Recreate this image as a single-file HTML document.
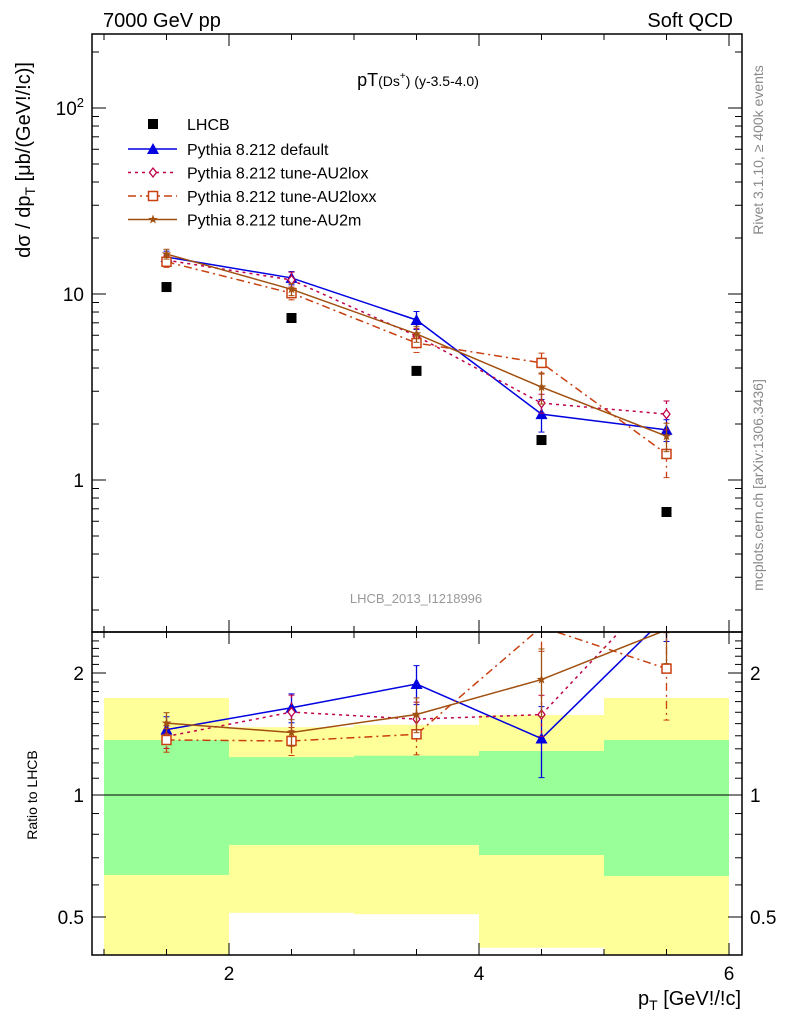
<!DOCTYPE html>
<html><head><meta charset="utf-8"><style>
body{margin:0;background:#fff}
svg{display:block;font-family:"Liberation Sans",sans-serif}
</style></head><body>
<svg id="chart" width="786" height="1024" viewBox="0 0 786 1024" xmlns="http://www.w3.org/2000/svg">
<defs>
<clipPath id="cm"><rect x="92" y="34" width="650" height="598"/></clipPath>
<clipPath id="cr"><rect x="92" y="632" width="650" height="323"/></clipPath>
</defs>
<g id="bands" clip-path="url(#cr)"></g>
<g id="ratio" clip-path="url(#cr)"></g>
<g id="main" clip-path="url(#cm)"></g>
<g id="axes"></g>
<text x="103" y="27" font-size="20">7000 GeV pp</text>
<text x="733" y="27" font-size="20" text-anchor="end">Soft QCD</text>
<text x="418" y="86" font-size="18" text-anchor="middle">pT<tspan font-size="14">(Ds</tspan><tspan font-size="10" dy="-7">+</tspan><tspan font-size="14" dy="7">) (y-3.5-4.0)</tspan></text>
<text x="416" y="603" font-size="13" fill="#999" text-anchor="middle">LHCB_2013_I1218996</text>
<text transform="translate(763,150) rotate(-90)" font-size="14" fill="#888" text-anchor="middle">Rivet 3.1.10, ≥ 400k events</text>
<text transform="translate(763,485) rotate(-90)" font-size="14" fill="#888" text-anchor="middle">mcplots.cern.ch [arXiv:1306.3436]</text>
<text transform="translate(30,160) rotate(-90)" font-size="20" text-anchor="middle">dσ / dp<tspan font-size="14" dy="5">T</tspan><tspan dy="-5"> [μb/(GeV!/!c)]</tspan></text>
<text transform="translate(37,795) rotate(-90)" font-size="14" text-anchor="middle">Ratio to LHCB</text>
<text x="741" y="1005" font-size="20" text-anchor="end">p<tspan font-size="14" dy="5">T</tspan><tspan dy="-5"> [GeV!/!c]</tspan></text>
<g id="legend"></g>
</svg>
<script>
const xs=[1.5,2.5,3.5,4.5,5.5];
const binLo=[1,2,3,4,5];
const binHi=[2,3,4,5,6];
const lhcb=[10.9,7.43,3.86,1.64,0.673];
const def=[15.8,12.2,7.25,2.26,1.86];
const defErr=[1.2,1.0,0.8,0.45,0.25];
const lox=[15.2,11.9,5.94,2.59,2.26];
const loxErr=[1.0,1.2,0.6,0.3,0.4];
const loxx=[14.9,10.1,5.45,4.26,1.38];
const loxxErr=[1.0,0.8,0.6,0.55,0.35];
const au2m=[16.4,10.6,6.1,3.16,1.72];
const au2mErr=[1.0,0.8,0.6,0.6,0.3];
const yelHi=[1.735,1.47,1.49,1.575,1.735];
const yelLo=[0.35,0.512,0.508,0.42,0.35];
const grnHi=[1.367,1.24,1.25,1.284,1.367];
const grnLo=[0.635,0.753,0.753,0.711,0.631];
const ratioTicks=[0.5,1,2];
const xTicks=[2,4,6];

const NS="http://www.w3.org/2000/svg";
const TOP=34;
const X=v=>104+(v-1)*125;
const Y=v=>480-186*Math.log10(v);
const R=v=>795-122*Math.log2(v);
function mk(p,t,a){const e=document.createElementNS(NS,t);for(const k in a)e.setAttribute(k,a[k]);p.appendChild(e);return e;}
const main=document.getElementById('main'),ratio=document.getElementById('ratio'),bands=document.getElementById('bands'),axes=document.getElementById('axes'),leg=document.getElementById('legend');

for(let i=0;i<5;i++){
  let r=mk(bands,'rect',{x:X(binLo[i]),y:R(yelHi[i]),width:X(binHi[i])-X(binLo[i]),height:R(yelLo[i])-R(yelHi[i]),fill:'#ffff99'});
  
  
  let g=mk(bands,'rect',{x:X(binLo[i]),y:R(grnHi[i]),width:X(binHi[i])-X(binLo[i]),height:R(grnLo[i])-R(grnHi[i]),fill:'#99ff99'});
  
  
}
mk(bands,'line',{x1:92,x2:742,y1:R(1),y2:R(1),stroke:'#000','stroke-width':1});

function marker(p,type,x,y,c){
  let e;
  if(type==='sq')e=mk(p,'rect',{x:x-5,y:y-5,width:10,height:10,fill:c});
  else if(type==='tri')e=mk(p,'polygon',{points:`${x},${y-6} ${x-6},${y+5} ${x+6},${y+5}`,fill:c});
  else if(type==='dia')e=mk(p,'polygon',{points:`${x},${y-4.5} ${x+3.5},${y} ${x},${y+4.5} ${x-3.5},${y}`,fill:'#fff',stroke:c,'stroke-width':1.3});
  else if(type==='osq')e=mk(p,'rect',{x:x-4.5,y:y-4.5,width:9,height:9,fill:'#fff',stroke:c,'stroke-width':1.5});
  else {let pts=[];for(let k=0;k<10;k++){const rr=k%2?2:5,a=-Math.PI/2+k*Math.PI/5;pts.push((x+rr*Math.cos(a)).toFixed(1)+','+(y+rr*Math.sin(a)).toFixed(1));}e=mk(p,'polygon',{points:pts.join(' '),fill:c});}
  return e;
}
const series=[
 {name:'default',vals:def,err:defErr,c:'#0000e0',m:'tri',dash:'',label:'Pythia 8.212 default'},
 {name:'au2lox',vals:lox,err:loxErr,c:'#c0004a',m:'dia',dash:'3,4',label:'Pythia 8.212 tune-AU2lox'},
 {name:'au2loxx',vals:loxx,err:loxxErr,c:'#c84010',m:'osq',dash:'8,4,2,4',label:'Pythia 8.212 tune-AU2loxx'},
 {name:'au2m',vals:au2m,err:au2mErr,c:'#a05010',m:'star',dash:'',label:'Pythia 8.212 tune-AU2m'}
];
series.forEach(s=>{
  [[main,Y,s.vals,s.err],[ratio,R,s.vals.map((v,i)=>v/lhcb[i]),s.err.map((e,i)=>e/lhcb[i])]].forEach(([p,F,v,e])=>{
    const pl=mk(p,'polyline',{points:xs.map((x,i)=>X(x)+','+F(v[i])).join(' '),fill:'none',stroke:s.c,'stroke-width':1.5,'stroke-dasharray':s.dash});
    
    
    xs.forEach((x,i)=>{
      const y1=F(v[i]+e[i]),y2=F(Math.max(v[i]-e[i],0.01));
      mk(p,'line',{x1:X(x),x2:X(x),y1:y1,y2:y2,stroke:s.c,'stroke-width':1.3,'stroke-dasharray':s.dash});
      mk(p,'line',{x1:X(x)-3,x2:X(x)+3,y1:y1,y2:y1,stroke:s.c});
      mk(p,'line',{x1:X(x)-3,x2:X(x)+3,y1:y2,y2:y2,stroke:s.c});
      const mm=marker(p,s.m,X(x),F(v[i]),s.c);
      
      
    });
  });
});
xs.forEach((x,i)=>{
  const m=marker(main,'sq',X(x),Y(lhcb[i]),'#000');
  
  
});

let ly=124;
marker(leg,'sq',153,ly,'#000');
mk(leg,'text',{x:187,y:ly+6,'font-size':16}).textContent='LHCB';
series.forEach((s,i)=>{
  const y=149+i*23.5;
  mk(leg,'line',{x1:128,x2:177,y1:y,y2:y,stroke:s.c,'stroke-width':1.5,'stroke-dasharray':s.dash});
  marker(leg,s.m,153,y,s.c);
  const t=mk(leg,'text',{x:187,y:y+6,'font-size':16});
  t.textContent=s.label;
  
  
});

mk(axes,'rect',{x:92,y:TOP,width:650,height:632-TOP,fill:'none',stroke:'#000','stroke-width':1.5});
mk(axes,'rect',{x:92,y:632,width:650,height:323,fill:'none',stroke:'#000','stroke-width':1.5});
for(let v=1;v<=6.01;v+=0.5){
  const maj=xTicks.includes(v),L=maj?12:6,x=X(v);
  [[TOP,1],[632,-1],[632,1],[955,-1]].forEach(([y0,d])=>mk(axes,'line',{x1:x,x2:x,y1:y0,y2:y0+d*L,stroke:'#000'}));
}
xTicks.forEach(v=>{mk(axes,'text',{x:X(v),y:980,'font-size':19,'text-anchor':'middle'}).textContent=String(v);});
for(let d=-1;d<=2;d++)for(let k=1;k<=9;k++){
  const v=k*Math.pow(10,d),y=Y(v);if(y<TOP+2||y>630)continue;
  const L=k===1?14:7;
  mk(axes,'line',{x1:92,x2:92+L,y1:y,y2:y,stroke:'#000'});
  mk(axes,'line',{x1:742,x2:742-L,y1:y,y2:y,stroke:'#000'});
}
[[1,"1"],[10,"10"]].forEach(([v,t])=>{mk(axes,'text',{x:84,y:Y(v)+7,'font-size':19,'text-anchor':'end'}).textContent=t;});
const t2=mk(axes,'text',{x:84,y:Y(100)+7,'font-size':19,'text-anchor':'end'});t2.innerHTML='10<tspan font-size="13" dy="-8">2</tspan>';
for(let v=0.4;v<=2.5;v+=0.1){
  const y=R(v);if(y<632||y>955)continue;
  const maj=ratioTicks.some(r=>Math.abs(r-v)<1e-6),L=maj?14:7;
  mk(axes,'line',{x1:92,x2:92+L,y1:y,y2:y,stroke:'#000'});
  mk(axes,'line',{x1:742,x2:742-L,y1:y,y2:y,stroke:'#000'});
}
ratioTicks.forEach(v=>{
  mk(axes,'text',{x:84,y:R(v)+7,'font-size':19,'text-anchor':'end'}).textContent=String(v);
  mk(axes,'text',{x:750,y:R(v)+7,'font-size':19}).textContent=String(v);
});
</script>
</body></html>
